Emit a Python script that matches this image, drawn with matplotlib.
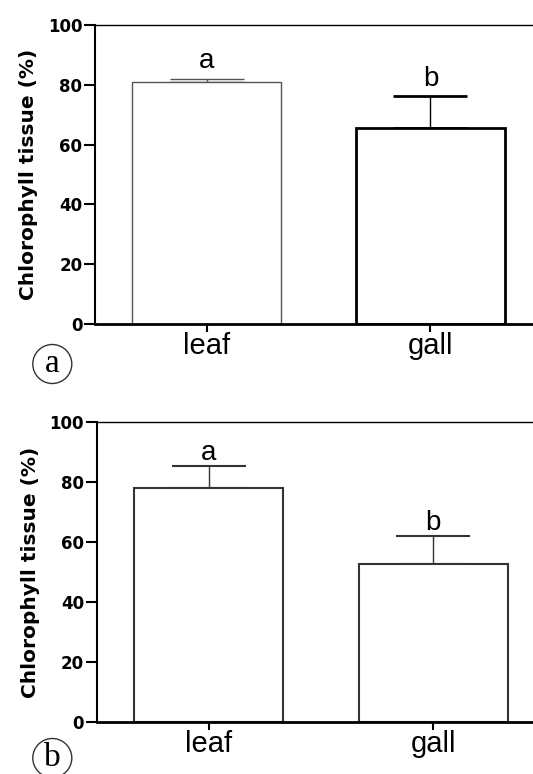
import matplotlib
matplotlib.use("Agg")
import matplotlib.pyplot as plt
from matplotlib.patches import Circle

# === Données ===
categories = ["leaf", "gall"]
mean_a = [81.0, 65.6]
err_a = [1.1, 10.5]
letters_a = ["a", "b"]

mean_b = [78.0, 52.6]
err_b = [7.4, 9.3]
letters_b = ["a", "b"]

yticks = [0, 20, 40, 60, 80, 100]

plt.rcParams["font.family"] = ["Liberation Sans", "DejaVu Sans"]

fig = plt.figure(figsize=(5.33, 7.74), dpi=100)


def draw_panel(ax, means, errs, letters, edge_colors, edge_widths, xlim, gap):
    x = range(len(categories))
    for i in x:
        ax.bar(i, means[i], width=0.665, color="white", edgecolor=edge_colors[i],
               linewidth=edge_widths[i], zorder=2)
        ax.errorbar(i, means[i], yerr=[[0], [errs[i]]], fmt="none",
                    ecolor=edge_colors[i], elinewidth=1.0,
                    capsize=26.5, capthick=edge_widths[i], zorder=1)
        ax.text(i, means[i] + errs[i] + gap, letters[i], ha="center", va="baseline",
                fontsize=20)
    ax.set_xlim(*xlim)
    ax.set_ylim(0, 100)
    ax.set_yticks(yticks)
    ax.set_yticklabels([str(t) for t in yticks], fontweight="bold", fontsize=12,
                       family="DejaVu Sans")
    ax.set_xticks(list(x))
    ax.set_xticklabels(categories, fontsize=21)
    ax.set_ylabel("Chlorophyll tissue (%)", fontweight="bold", fontsize=14.5,
                  family="DejaVu Sans", labelpad=7)
    ax.spines["right"].set_visible(False)
    ax.spines["top"].set_linewidth(1.0)
    ax.spines["left"].set_linewidth(1.5)
    ax.spines["bottom"].set_linewidth(2.0)
    ax.tick_params(axis="y", length=8, width=1.5, pad=1)
    ax.tick_params(axis="x", length=6, width=1.5, pad=0)


# --- panneau a ---
ax1 = fig.add_axes([0.1782, 0.5814, 0.8218, 0.3863])
draw_panel(ax1, mean_a, err_a, letters_a, ["#555555", "black"], [1.0, 2.0],
           (-0.498, 1.458), 3.5)

# --- panneau b ---
ax2 = fig.add_axes([0.1814, 0.0676, 0.8186, 0.3868])
draw_panel(ax2, mean_b, err_b, letters_b, ["#333333", "#333333"], [1.5, 1.5],
           (-0.499, 1.444), 2.0)

# étiquettes encerclées (coordonnées en pouces)
for label, cy in [("a", 364), ("b", 758)]:
    cx_in, cy_in = 0.523, (774 - cy) / 100
    fig.add_artist(Circle((cx_in, cy_in), 0.195, transform=fig.dpi_scale_trans,
                          fc="white", ec="#333333", lw=1.0))
    fig.text(cx_in, cy_in, label, transform=fig.dpi_scale_trans, ha="center",
             va="center", fontsize=24, family="Liberation Serif")

fig.savefig("out.png", dpi=100)
